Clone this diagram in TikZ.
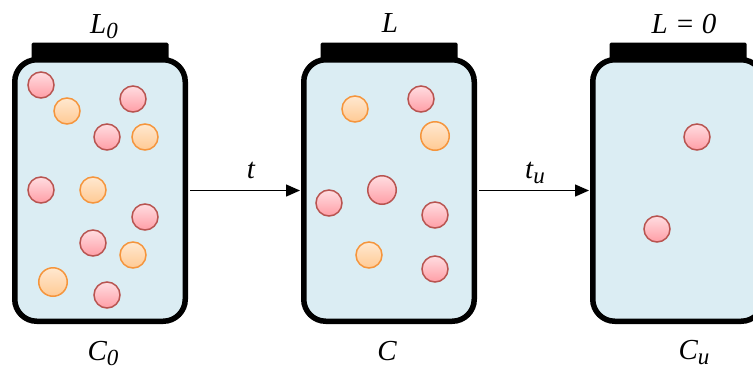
\documentclass[tikz,border=0pt]{standalone}
\usepackage{fontspec}
\setmainfont{Liberation Serif}
\usetikzlibrary{arrows.meta,calc}
\definecolor{jarfill}{HTML}{DBEDF3}
\definecolor{redstroke}{HTML}{B85450}
\definecolor{redtop}{HTML}{FFDDE1}
\definecolor{redbot}{HTML}{FF9EA6}
\definecolor{orstroke}{HTML}{F5953C}
\definecolor{ortop}{HTML}{FFE8D0}
\definecolor{orbot}{HTML}{FFCA94}
\newcommand{\sub}[1]{\raisebox{-5pt}{\fontsize{23}{24}\selectfont #1}}
\tikzset{
  jarbody/.style={draw=black, line width=5.5pt, fill=jarfill, rounded corners=22pt,
    minimum width=170.5pt, minimum height=261.5pt, inner sep=0pt},
  lid/.style={fill=black, rounded corners=1.5pt},
  redball/.style={circle, draw=redstroke, line width=1.5pt, top color=redtop, bottom color=redbot,
    minimum size=26pt, inner sep=0pt},
  orball/.style={circle, draw=orstroke, line width=1.5pt, top color=ortop, bottom color=orbot,
    minimum size=26pt, inner sep=0pt},
  big/.style={minimum size=28.5pt},
  lbl/.style={anchor=base, inner sep=0pt, font=\fontsize{29}{32}\selectfont\itshape},
  flow/.style={line width=1.4pt, -{Triangle[length=14pt,width=12pt]}, shorten <=2pt, shorten >=1pt}
}
\begin{document}
\begin{tikzpicture}[x=1pt,y=-1pt]
\useasboundingbox (0,0) rectangle (753,370);
\clip (0,0) rectangle (753,370);
% jars
\node[jarbody] (j1) at (100,190.5) {};
\node[jarbody] (j2) at (389,190.5) {};
\node[jarbody] (j3) at (678,190.5) {};
\fill[lid] ($(j1.north)+(-68.5,-14.5)$) rectangle +(137,17);
\fill[lid] ($(j2.north)+(-68.5,-14.5)$) rectangle +(137,17);
\fill[lid] ($(j3.north)+(-68.5,-14.5)$) rectangle +(137,17);
% arrows
\draw[flow] (j1.east) -- (j2.west);
\draw[flow] (j2.east) -- (j3.west);
% labels
\node[lbl] (tl) at (251,178) {t};
\node[lbl] (tul) at (535,178) {t\sub{u}};
\node[lbl] (l0) at (104,33) {L\sub{0}};
\node[lbl] (l) at (390,32) {L};
\node[lbl] (lz) at (684,33) {L = 0};
\node[lbl] (c0) at (103,360) {C\sub{0}};
\node[lbl] (c) at (387,360) {C};
\node[lbl] (cu) at (694,359) {C\sub{u}};
% jar 1 balls
\node[redball] (a1) at (41,85) {};
\node[orball] (a2) at (67,111) {};
\node[redball] (a3) at (133,99) {};
\node[redball] (a4) at (107,137) {};
\node[orball] (a5) at (145,137) {};
\node[redball] (a6) at (41,190) {};
\node[orball] (a7) at (93,190) {};
\node[redball] (a8) at (145,217) {};
\node[redball] (a9) at (93,243) {};
\node[orball] (a10) at (133,255) {};
\node[orball,big] (a11) at (53,282) {};
\node[redball] (a12) at (107,295) {};
% jar 2 balls
\node[orball] (b1) at (355,109) {};
\node[redball] (b2) at (421,99) {};
\node[orball,big] (b3) at (435,136) {};
\node[redball,big] (b4) at (382,190) {};
\node[redball] (b5) at (329,203) {};
\node[redball] (b6) at (435,215) {};
\node[orball] (b7) at (369,255) {};
\node[redball] (b8) at (435,269) {};
% jar 3 balls
\node[redball] (c1) at (697,137) {};
\node[redball] (c2) at (657,229) {};
\end{tikzpicture}
\end{document}
